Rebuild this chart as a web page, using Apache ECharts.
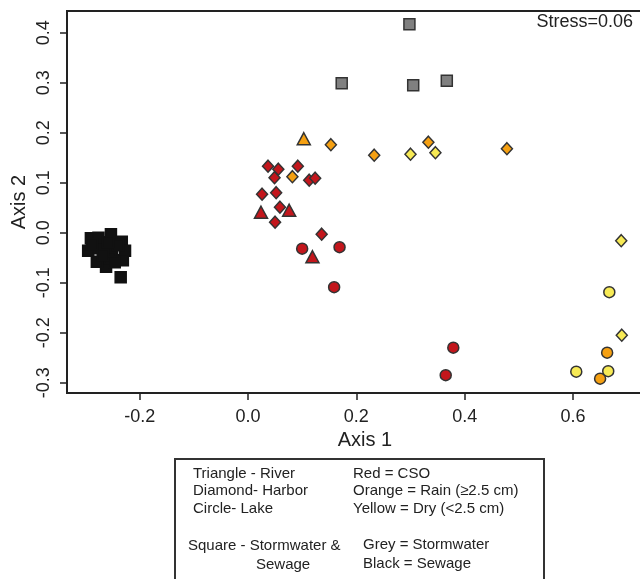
<!DOCTYPE html>
<html>
<head>
<meta charset="utf-8">
<script src="https://cdn.jsdelivr.net/npm/echarts@6/dist/echarts.min.js"></script>
<style>
html,body{margin:0;padding:0;background:#fff;}
#chart{width:640px;height:579px;}
</style>
</head>
<body>
<div id="chart"></div>
<script>
// ---- data (Axis 1, Axis 2) ----
var sewage = [[-0.290,-0.011],[-0.253,-0.003],[-0.276,-0.010],[-0.233,-0.018],[-0.227,-0.036],[-0.231,-0.055],
  [-0.262,-0.068],[-0.279,-0.058],[-0.295,-0.036],[-0.273,-0.031],[-0.251,-0.035],[-0.255,-0.051],[-0.240,-0.025],
  [-0.268,-0.045],[-0.246,-0.059],[-0.288,-0.023],[-0.258,-0.019],[-0.235,-0.089]];
var stormwater = [[0.298,0.417],[0.173,0.299],[0.305,0.295],[0.367,0.304]];
var riverCSO = [[0.024,0.041],[0.076,0.045],[0.119,-0.048]];
var riverRain = [[0.103,0.188]];
var harborCSO = [[0.037,0.133],[0.056,0.127],[0.092,0.133],[0.049,0.110],[0.113,0.105],[0.124,0.109],
  [0.026,0.077],[0.052,0.080],[0.059,0.051],[0.050,0.021],[0.136,-0.003]];
var harborRain = [[0.153,0.176],[0.082,0.112],[0.233,0.155],[0.333,0.181],[0.478,0.168]];
var harborDry = [[0.300,0.157],[0.346,0.160],[0.689,-0.016],[0.690,-0.205]];
var lakeCSO = [[0.100,-0.032],[0.169,-0.029],[0.159,-0.109],[0.379,-0.230],[0.365,-0.285]];
var lakeRain = [[0.663,-0.240],[0.650,-0.292]];
var lakeDry = [[0.667,-0.119],[0.606,-0.278],[0.665,-0.277]];
var xTicks = [-0.2, 0.0, 0.2, 0.4, 0.6];
var yTicks = [-0.3, -0.2, -0.1, 0.0, 0.1, 0.2, 0.3, 0.4];
var stressText = 'Stress=0.06';
var legendLeft = ['Triangle - River', 'Diamond- Harbor', 'Circle- Lake', 'Square - Stormwater &', 'Sewage'];
var legendRight = ['Red = CSO', 'Orange = Rain (\u22652.5 cm)', 'Yellow = Dry (<2.5 cm)', 'Grey = Stormwater', 'Black = Sewage'];

var RED = '#c3161c', ORANGE = '#f5a012', YELLOW = '#f7ea55', GREY = '#808080', BLACK = '#111111';
var EDGE = '#333333';
var FONT = '"Liberation Sans", Arial, Helvetica, sans-serif';

function sc(name, data, symbol, size, color, border) {
  return {
    name: name, type: 'scatter', data: data, symbol: symbol, symbolSize: size,
    itemStyle: { color: color, borderColor: border || EDGE, borderWidth: 1.5, opacity: 1 },
    emphasis: { disabled: true }, animation: false
  };
}

var chart = echarts.init(document.getElementById('chart'), null, { renderer: 'canvas' });
var txt = function (x, y, s, align) {
  return { type: 'text', x: x, y: y,
    style: { text: s, font: '15px ' + FONT, fill: '#222', textAlign: align || 'left', textVerticalAlign: 'middle' } };
};
chart.setOption({
  animation: false,
  backgroundColor: '#ffffff',
  textStyle: { fontFamily: FONT },
  grid: { left: 67, top: 11, width: 596, height: 382, outerBoundsMode: 'none', containLabel: false,
    show: true, borderColor: '#222', borderWidth: 2, backgroundColor: 'transparent' },
  xAxis: {
    type: 'value', min: -0.3341, max: 0.7661,
    name: 'Axis 1', nameLocation: 'middle', nameGap: 37, nameMoveOverlap: false,
    nameTextStyle: { fontSize: 20, color: '#222', fontFamily: FONT },
    axisLine: { show: false, onZero: false },
    splitLine: { show: false },
    axisTick: { show: true, length: 7, customValues: xTicks, lineStyle: { color: '#222', width: 1.5 } },
    axisLabel: { customValues: xTicks, fontSize: 18, color: '#222', margin: 15, fontFamily: FONT,
      formatter: function (v) { return v.toFixed(1); } }
  },
  yAxis: {
    type: 'value', min: -0.3206, max: 0.4434,
    name: 'Axis 2', nameLocation: 'middle', nameGap: 38, nameRotate: 90, nameMoveOverlap: false,
    nameTextStyle: { fontSize: 20, color: '#222', fontFamily: FONT },
    axisLine: { show: false, onZero: false },
    splitLine: { show: false },
    axisTick: { show: true, length: 7, customValues: yTicks, lineStyle: { color: '#222', width: 1.5 } },
    axisLabel: { customValues: yTicks, fontSize: 18, color: '#222', margin: 14, rotate: 90, fontFamily: FONT,
      formatter: function (v) { return v.toFixed(1); } }
  },
  series: [
    sc('Sewage', sewage, 'rect', 11, BLACK, BLACK),
    sc('Stormwater', stormwater, 'rect', 11, GREY),
    sc('River CSO', riverCSO, 'triangle', [13, 12], RED),
    sc('River Rain', riverRain, 'triangle', [13, 12], ORANGE),
    sc('Harbor CSO', harborCSO, 'diamond', [11, 12], RED),
    sc('Harbor Rain', harborRain, 'diamond', [11, 12], ORANGE),
    sc('Harbor Dry', harborDry, 'diamond', [11, 12], YELLOW),
    sc('Lake CSO', lakeCSO, 'circle', 11, RED),
    sc('Lake Rain', lakeRain, 'circle', 11, ORANGE),
    sc('Lake Dry', lakeDry, 'circle', 11, YELLOW)
  ],
  graphic: [
    { type: 'text', x: 633, y: 22, style: { text: stressText, font: '18px ' + FONT, fill: '#222', textAlign: 'right', textVerticalAlign: 'middle' } },
    { type: 'rect', shape: { x: 175, y: 459, width: 369, height: 140 }, style: { fill: '#fff', stroke: '#333', lineWidth: 2 } },
    txt(193, 474, legendLeft[0]),
    txt(193, 491, legendLeft[1]),
    txt(193, 509, legendLeft[2]),
    txt(188, 546, legendLeft[3]),
    txt(256, 565, legendLeft[4]),
    txt(353, 474, legendRight[0]),
    txt(353, 491, legendRight[1]),
    txt(353, 509, legendRight[2]),
    txt(363, 545, legendRight[3]),
    txt(363, 564, legendRight[4])
  ]
});
</script>
</body>
</html>
